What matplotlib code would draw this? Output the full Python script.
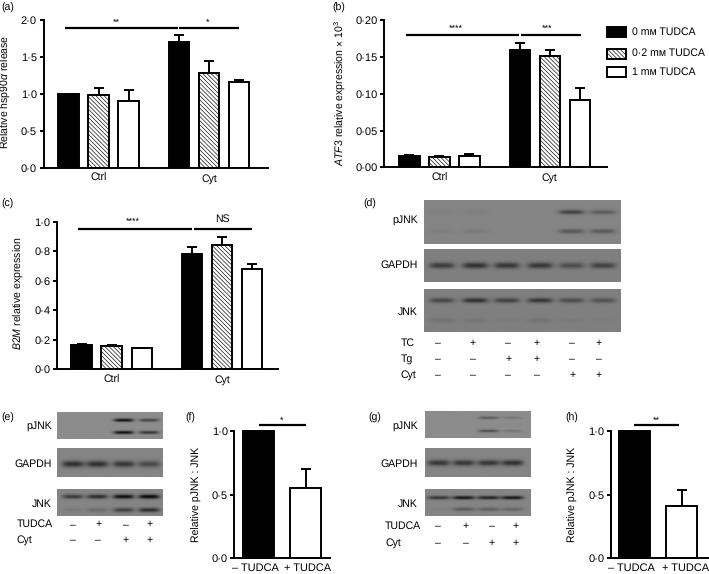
import numpy as np
import matplotlib
matplotlib.use("Agg")
import matplotlib.pyplot as plt
from matplotlib.patches import Rectangle

plt.rcParams["font.family"] = ["Liberation Sans", "DejaVu Sans"]
plt.rcParams["mathtext.fontset"] = "custom"
plt.rcParams["mathtext.rm"] = "Liberation Sans"
plt.rcParams["mathtext.it"] = "Liberation Sans:italic"
plt.rcParams["hatch.linewidth"] = 0.45
plt.rcParams["text.hinting"] = "no_hinting"

W, H = 709, 574
FS = 7.6
TICK_FS = 8
LW = 1.4
HATCH = "\\" * 8

# bar panels: Ctrl then Cyt, each 0 / 0.2 / 1 mM
groups = ["Ctrl", "Cyt"]
legend_labels = ["0 mᴍ TUDCA", "0·2 mᴍ TUDCA", "1 mᴍ TUDCA"]

a_vals = [1.0, 0.99, 0.90, 1.71, 1.29, 1.16]
a_tops = [1.0, 1.08, 1.05, 1.80, 1.45, 1.19]
a_ticks = [0.0, 0.5, 1.0, 1.5, 2.0]
a_ticklabels = ["0·0", "0·5", "1·0", "1·5", "2·0"]

b_vals = [0.015, 0.014, 0.016, 0.160, 0.152, 0.092]
b_tops = [0.0165, 0.0155, 0.0175, 0.169, 0.159, 0.108]
b_ticks = [0.0, 0.05, 0.10, 0.15, 0.20]
b_ticklabels = ["0·00", "0·05", "0·10", "0·15", "0·20"]

c_vals = [0.165, 0.155, 0.14, 0.78, 0.845, 0.68]
c_tops = [0.168, 0.16, 0.145, 0.825, 0.895, 0.715]
c_ticks = [0.0, 0.2, 0.4, 0.6, 0.8, 1.0]
c_ticklabels = ["0·0", "0·2", "0·4", "0·6", "0·8", "1·0"]

# two bar panels
pair_labels = ["– TUDCA", "+ TUDCA"]
pair_ticks = [0.0, 0.5, 1.0]
pair_ticklabels = ["0·0", "0·5", "1·0"]
f_vals = [1.0, 0.55]
f_tops = [1.0, 0.70]
h_vals = [1.0, 0.41]
h_tops = [1.0, 0.535]

# blot band strengths per lane
d_pjnk = [[0.05, 0.06, 0.0, 0.0, 0.65, 0.4], [0.06, 0.09, 0.0, 0.0, 0.45, 0.42]]
d_gapdh = [[0.6, 0.7, 0.65, 0.65, 0.45, 0.55]]
d_jnk = [[0.5, 0.7, 0.55, 0.65, 0.45, 0.4], [0.12, 0.08, 0.04, 0.1, 0.05, 0.03]]
e_pjnk = [[0.0, 0.0, 0.95, 0.55], [0.0, 0.0, 0.95, 0.65]]
e_gapdh = [[0.7, 0.7, 0.65, 0.5]]
e_jnk = [[0.6, 0.7, 0.95, 1.0], [0.08, 0.2, 0.55, 0.7]]
g_pjnk = [[0.0, 0.0, 0.45, 0.2], [0.0, 0.0, 0.55, 0.2]]
g_gapdh = [[0.65, 0.65, 0.65, 0.7]]
g_jnk = [[0.65, 0.9, 0.8, 0.9], [0.03, 0.35, 0.3, 0.25]]

d_signs = {"TC": "–+–+–+", "Tg": "––++––", "Cyt": "––––++"}
eg_signs = {"TUDCA": "–+–+", "Cyt": "––++"}

fig = plt.figure(figsize=(W / 100, H / 100), dpi=100)


def fx(x):
    return x / W


def fy(y):
    return 1 - y / H


def label(x, y, s, **kw):
    kw.setdefault("fontsize", FS)
    kw.setdefault("va", "center")
    return fig.text(fx(x), fy(y), s, **kw)


def make_axes(left, right, top, bottom):
    ax = fig.add_axes([fx(left), fy(bottom), fx(right - left), (bottom - top) / H])
    ax.patch.set_alpha(0)
    ax.spines["top"].set_visible(False)
    ax.spines["right"].set_visible(False)
    ax.spines["left"].set_linewidth(LW)
    ax.spines["bottom"].set_linewidth(LW)
    ax.tick_params(axis="y", length=3.2, width=LW, labelsize=TICK_FS, pad=1.5)
    ax.tick_params(axis="x", length=0, labelsize=FS, pad=4)
    return ax


def errs(ax, xs, vals, tops):
    for x, v, t in zip(xs, vals, tops):
        if t > v:
            ax.errorbar(x, v, yerr=[[0], [t - v]], color="k", lw=LW, capsize=3.4,
                        capthick=LW, zorder=1)


def group_panel(left, right, top, bottom, vals, tops, ticks, ticklabels, ymax):
    ax = make_axes(left, right, top, bottom)
    step = 30.0
    x0 = left + 25
    xs = np.array([0, 1, 2, 3.68, 4.68, 5.68])
    ax.set_xlim((left - x0) / step, (right - x0) / step)
    ax.set_ylim(0, ymax)
    face = ["k", "w", "w", "k", "w", "w"]
    hatch = [None, HATCH, None, None, HATCH, None]
    for x, v, fc, h in zip(xs, vals, face, hatch):
        ax.bar(x, v, width=0.68, facecolor=fc, edgecolor="k", lw=LW, hatch=h, zorder=2)
    errs(ax, xs, vals, tops)
    ax.set_yticks(ticks)
    ax.set_yticklabels(ticklabels)
    ax.set_xticks([xs[:3].mean(), xs[3:].mean()])
    ax.set_xticklabels(groups)
    return ax


def sig(ax, x1, x2, y):
    ax.plot([x1, x2], [y, y], color="k", lw=1.6, solid_capstyle="butt", clip_on=False, zorder=3)


def pair_panel(left, right, top, bottom, vals, tops, centers):
    ax = make_axes(left, right, top, bottom)
    ax.set_xlim(left, right)
    ax.set_ylim(0, 1)
    for x, v, fc in zip(centers, vals, ["k", "w"]):
        ax.bar(x, v, width=31, facecolor=fc, edgecolor="k", lw=LW, zorder=2, clip_on=False)
    errs(ax, centers, vals, tops)
    ax.set_yticks(pair_ticks)
    ax.set_yticklabels(pair_ticklabels)
    ax.set_xticks([])
    return ax


def blot(left, right, top, bottom, lanes, rows, strengths, bg, dark, lane_w=0.065, row_h=0.07):
    ax = fig.add_axes([fx(left), fy(bottom), fx(right - left), (bottom - top) / H])
    yy, xx = np.mgrid[0:1:120j, 0:1:300j]
    shade = np.zeros_like(xx)
    for ry, row in zip(rows, strengths):
        for lx, s in zip(lanes, row):
            d = ((xx - lx) / lane_w) ** 4 + ((yy - ry) / row_h) ** 2
            shade += s * np.exp(-d)
    img = bg - (bg - dark) * np.clip(shade, 0, 1)
    ax.imshow(img, cmap="gray", vmin=0, vmax=1, aspect="auto", extent=(0, 1, 1, 0),
              interpolation="bilinear")
    ax.set_xticks([])
    ax.set_yticks([])
    for s in ax.spines.values():
        s.set_visible(False)
    return ax


# (a)
ax = group_panel(43.5, 268, 20.3, 167.7, a_vals, a_tops, a_ticks, a_ticklabels, 2.0)
sig(ax, -0.12, 3.65, 1.89)
sig(ax, 3.69, 5.7, 1.89)
label(116, 22.5, "**", ha="center", fontsize=6.5)
label(208, 22.5, "*", ha="center", fontsize=6.5)
label(1, 8, "(a)")
label(6, 92, r"Relative hsp90$\alpha$ release", rotation=90, ha="center")

# (b)
ax = group_panel(384.3, 606.7, 20.3, 167.3, b_vals, b_tops, b_ticks, b_ticklabels, 0.20)
sig(ax, -0.1, 3.67, 0.18)
sig(ax, 3.71, 5.73, 0.18)
label(456, 28.5, "****", ha="center", fontsize=6.5)
label(547, 28.5, "***", ha="center", fontsize=6.5)
label(332, 8, "(b)")
label(340, 93, r"$\mathit{ATF3}$ relative expression × 10$^{3}$", rotation=90, ha="center")

# legend
legend_y = [32, 53.5, 72]
for name, y, fc, h in zip(legend_labels, legend_y, ["k", "w", "w"], [None, HATCH, None]):
    fig.add_artist(Rectangle((fx(607), fy(y + 5)), 18.5 / W, 10 / H, transform=fig.transFigure,
                             facecolor=fc, edgecolor="k", lw=LW, hatch=h))
    label(631.7, y, name, ha="left")

# (c)
ax = group_panel(56.7, 278, 221.7, 369, c_vals, c_tops, c_ticks, c_ticklabels, 1.0)
sig(ax, -0.12, 3.69, 0.95)
sig(ax, 3.73, 5.68, 0.95)
label(132.7, 222, "****", ha="center", fontsize=6.5)
label(222.7, 219, "NS", ha="center")
label(1, 204, "(c)")
label(19, 293, r"$\mathit{B2M}$ relative expression", rotation=90, ha="center")

# (d)
d_lanes = [0.09, 0.26, 0.42, 0.59, 0.75, 0.91]
blot(424, 620.7, 200, 244, d_lanes, [0.29, 0.72], d_pjnk, 0.52, 0.12, row_h=0.05)
blot(424, 620.7, 249.3, 282.3, d_lanes, [0.5], d_gapdh, 0.50, 0.05, row_h=0.09)
blot(424, 620.7, 288.7, 332.3, d_lanes, [0.28, 0.74], d_jnk, 0.50, 0.05, row_h=0.055)
label(363, 204, "(d)")
for name, y in zip(["pJNK", "GAPDH", "JNK"], [220, 265, 312]):
    label(417.7, y, name, ha="right")
for (name, signs), y in zip(d_signs.items(), [343, 359, 375]):
    label(400.7, y, name, ha="left")
    for x, s in zip([438.3, 472.7, 508.3, 536.7, 572.3, 599], signs):
        label(x, y, s, ha="center")

# (e)
e_lanes = [0.15, 0.38, 0.63, 0.87]
blot(57.3, 162.7, 412.3, 438.7, e_lanes, [0.30, 0.76], e_pjnk, 0.55, 0.03, lane_w=0.095, row_h=0.06)
blot(57.3, 162.7, 447.7, 477.3, e_lanes, [0.57], e_gapdh, 0.52, 0.05, lane_w=0.105, row_h=0.11)
blot(57.3, 162.7, 489.3, 515.7, e_lanes, [0.28, 0.78], e_jnk, 0.52, 0.03, lane_w=0.1, row_h=0.08)
label(1, 417.7, "(e)")
for name, y in zip(["pJNK", "GAPDH", "JNK"], [426, 463.7, 504]):
    label(51.7, y, name, ha="right")
for (name, signs), y in zip(eg_signs.items(), [524.3, 539.7]):
    label(16.7, y, name, ha="left")
    for x, s in zip([72.7, 98.3, 125.7, 150], signs):
        label(x, y, s, ha="center")

# (f)
ax = pair_panel(234.3, 330, 431.3, 557.7, f_vals, f_tops, [258.3, 305.5])
sig(ax, 258.7, 305.7, 1.046)
label(281.7, 420.5, "*", ha="center", fontsize=6.5)
label(185, 417.7, "(f)")
label(196.7, 494, "Relative pJNK : JNK", rotation=90, ha="center")
label(255, 568, pair_labels[0], ha="center", fontsize=FS + 0.3)
label(308, 568, pair_labels[1], ha="center", fontsize=FS + 0.3)

# (g)
g_lanes = [0.13, 0.365, 0.60, 0.825]
blot(425, 530, 411, 437.7, g_lanes, [0.25, 0.74], g_pjnk, 0.55, 0.1, lane_w=0.095, row_h=0.05)
blot(425, 530, 447.7, 477.3, g_lanes, [0.53], g_gapdh, 0.52, 0.05, lane_w=0.105, row_h=0.1)
blot(425, 530, 489.3, 515.7, g_lanes, [0.32, 0.75], g_jnk, 0.52, 0.03, lane_w=0.105, row_h=0.065)
label(368, 417.7, "(g)")
for name, y in zip(["pJNK", "GAPDH", "JNK"], [426, 463.7, 504]):
    label(417.7, y, name, ha="right")
for (name, signs), y in zip(eg_signs.items(), [525.7, 542.7]):
    label(385, y, name, ha="left")
    for x, s in zip([438.3, 465.7, 491.7, 516], signs):
        label(x, y, s, ha="center")

# (h)
ax = pair_panel(611, 709, 431.3, 557.7, h_vals, h_tops, [634.3, 681.7])
sig(ax, 634.3, 679.3, 1.046)
label(656.7, 420.5, "**", ha="center", fontsize=6.5)
label(565, 417.7, "(h)")
label(573.3, 494, "Relative pJNK : JNK", rotation=90, ha="center")
label(631.7, 568, pair_labels[0], ha="center", fontsize=FS + 0.3)
label(685.7, 568, pair_labels[1], ha="center", fontsize=FS + 0.3)

fig.savefig("out.png", dpi=100)
